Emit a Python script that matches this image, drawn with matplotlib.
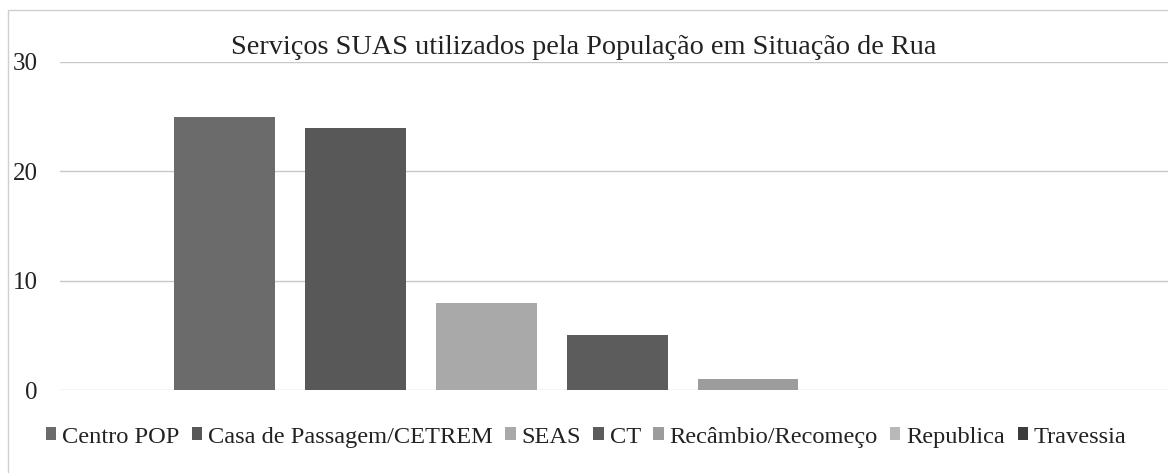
import matplotlib.pyplot as plt
from matplotlib.patches import Rectangle

plt.rcParams['font.family'] = ['Liberation Serif', 'DejaVu Serif']

services = ['Centro POP', 'Casa de Passagem/CETREM', 'SEAS', 'CT',
            'Recâmbio/Recomeço', 'Republica', 'Travessia']
counts = [25, 24, 8, 5, 1, 0, 0]
colors = ['#6b6b6b', '#585858', '#a9a9a9', '#5c5c5c', '#9c9c9c', '#b8b8b8', '#3c3c3c']

fig = plt.figure(figsize=(11.68, 4.73), dpi=100)
ax = fig.add_axes([60 / 1168, 1 - 390 / 473, 1 - 60 / 1168, (390 - 62) / 473])

for i, (name, val, c) in enumerate(zip(services, counts, colors)):
    ax.bar(i, val, width=0.77, color=c, label=name)

ax.set_xlim(-1.26, 7.21)
ax.set_ylim(0, 30)
ax.set_yticks([0, 10, 20, 30])
ax.set_xticks([])
ax.yaxis.grid(True, color='#c8c8c8', linewidth=1)
ax.set_axisbelow(True)
for s in ax.spines.values():
    s.set_visible(False)
ax.tick_params(axis='y', length=0, labelsize=18, pad=16, colors='#222222')

fig.text(0.5, 1 - 47 / 473, 'Serviços SUAS utilizados pela População em Situação de Rua',
         ha='center', va='center', fontsize=20.3, color='#222222')

fig.legend(loc='center', bbox_to_anchor=(0.502, 1 - 437 / 473), ncol=7, frameon=False,
           fontsize=17.6, handlelength=0.42, handleheight=0.42, handletextpad=0.25,
           columnspacing=0.5, labelcolor='#222222')

# outer chart frame
fig.patches.append(Rectangle((8 / 1168, -0.1), 1.2, 1 - 10 / 473 + 0.1,
                             transform=fig.transFigure, fill=False,
                             edgecolor='#d0d0d0', linewidth=1))

fig.savefig('out.png', dpi=100)
